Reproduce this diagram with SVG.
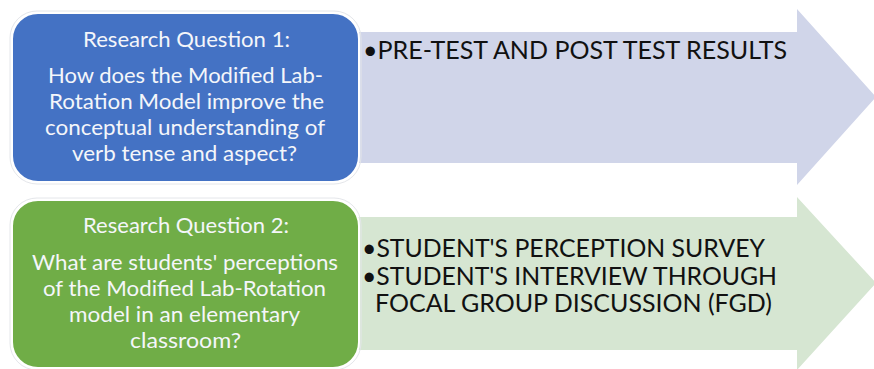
<svg xmlns="http://www.w3.org/2000/svg" width="874" height="369" viewBox="0 0 874 369">
<style>
.q{font-family:"Lato","Open Sans","Liberation Sans",sans-serif;font-size:20.5px;fill:#F4F6FA}
.r{font-family:"Lato","Open Sans","Liberation Sans",sans-serif;font-size:24.5px;fill:#111111}
.box{stroke:#FFFFFF;stroke-width:2}
.halo{fill:none;stroke:#E4E6EA;stroke-width:1}
</style>
<rect width="874" height="369" fill="#FFFFFF"/>
<g id="connectors">
<polygon id="arrow1" points="340,32 797,32 797,9 876,97 797,185 797,163 340,163" fill="#D0D5E9"/>
<polygon id="arrow2" points="340,217 797,217 797,197 876,283 797,370 797,350 340,350" fill="#D6E6D2"/>
</g>
<g id="rq1">
<rect class="halo" x="10" y="11" width="351" height="173" rx="27"/>
<rect class="box" x="12" y="13" width="347" height="169" rx="26" fill="#4472C4"/>
<text class="q" x="83" y="47" textLength="207" lengthAdjust="spacingAndGlyphs">Research Question 1:</text>
<text class="q" x="48" y="83" textLength="275" lengthAdjust="spacingAndGlyphs">How does the Modified Lab-</text>
<text class="q" x="49" y="109" textLength="275" lengthAdjust="spacingAndGlyphs">Rotation Model improve the</text>
<text class="q" x="45" y="135" textLength="280" lengthAdjust="spacingAndGlyphs">conceptual understanding of</text>
<text class="q" x="72" y="161" textLength="225" lengthAdjust="spacingAndGlyphs">verb tense and aspect?</text>
</g>
<g id="methods1">
<text class="r" x="363" y="59" textLength="424" lengthAdjust="spacingAndGlyphs">•PRE-TEST AND POST TEST RESULTS</text>
</g>
<g id="rq2">
<rect class="halo" x="10" y="198" width="351" height="172" rx="27"/>
<rect class="box" x="12" y="200" width="347" height="168" rx="26" fill="#70AD47"/>
<text class="q" x="83" y="233" textLength="206" lengthAdjust="spacingAndGlyphs">Research Question 2:</text>
<text class="q" x="32" y="270" textLength="306" lengthAdjust="spacingAndGlyphs">What are students' perceptions</text>
<text class="q" x="43" y="296" textLength="283" lengthAdjust="spacingAndGlyphs">of the Modified Lab-Rotation</text>
<text class="q" x="69" y="322" textLength="231" lengthAdjust="spacingAndGlyphs">model in an elementary</text>
<text class="q" x="130" y="348" textLength="111" lengthAdjust="spacingAndGlyphs">classroom?</text>
</g>
<g id="methods2">
<text class="r" x="362" y="257" textLength="403" lengthAdjust="spacingAndGlyphs">•STUDENT'S PERCEPTION SURVEY</text>
<text class="r" x="362" y="285" textLength="415" lengthAdjust="spacingAndGlyphs">•STUDENT'S INTERVIEW THROUGH</text>
<text class="r" x="375" y="312" textLength="397" lengthAdjust="spacingAndGlyphs">FOCAL GROUP DISCUSSION (FGD)</text>
</g>
</svg>
